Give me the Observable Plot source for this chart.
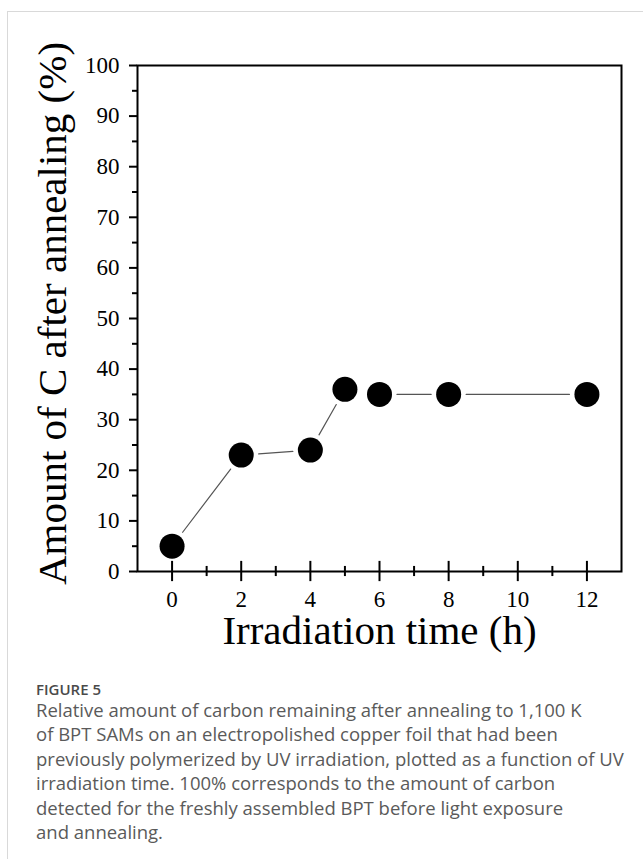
<!DOCTYPE html>
<html>
<head>
<meta charset="utf-8">
<script src="https://cdn.jsdelivr.net/npm/d3@7"></script>
<script src="https://cdn.jsdelivr.net/npm/@observablehq/plot@0.6"></script>
<style>
  html, body { margin: 0; padding: 0; background: #fff; }
  #wrap { position: relative; width: 643px; height: 859px; overflow: hidden; }
  #bl { position: absolute; left: 7px; top: 11px; width: 1px; height: 848px; background: #d9d9d9; }
  #bt { position: absolute; left: 7px; top: 11px; width: 636px; height: 1px; background: #d9d9d9; }
  #chart { position: absolute; left: 0; top: 0; }
  #cap { position: absolute; left: 36px; top: 680px; width: 607px; font-family: "Open Sans", sans-serif; color: #5a5a5a; }
  #cap .fig { font-size: 15px; font-weight: 600; color: #4a4a4a; line-height: 18px; }
  #cap .txt { font-size: 18.5px; line-height: 24.4px; white-space: nowrap; }
</style>
</head>
<body>
<div id="wrap">
  <div id="bt"></div>
  <div id="bl"></div>
  <div id="chart"></div>
  <div id="cap">
    <div class="fig">FIGURE 5</div>
    <div class="txt">Relative amount of carbon remaining after annealing to 1,100 K<br>of BPT SAMs on an electropolished copper foil that had been<br>previously polymerized by UV irradiation, plotted as a function of UV<br>irradiation time. 100% corresponds to the amount of carbon<br>detected for the freshly assembled BPT before light exposure<br>and annealing.</div>
  </div>
</div>
<script>
// Data
const hours = [0, 2, 4, 5, 6, 8, 12];
const carbon = [5, 23, 24, 36, 35, 35, 35];
const xMajorTicks = [0, 2, 4, 6, 8, 10, 12];
const xMinorTicks = [1, 3, 5, 7, 9, 11];
const yMajorTicks = [0, 10, 20, 30, 40, 50, 60, 70, 80, 90, 100];
const yMinorTicks = [5, 15, 25, 35, 45, 55, 65, 75, 85, 95];
const xLabel = "Irradiation time (h)";
const yLabel = "Amount of C after annealing (%)";

const points = hours.map((h, i) => ({h, c: carbon[i]}));
const segments = points.slice(1).map((p, i) => ({x1: points[i].h, y1: points[i].c, x2: p.h, y2: p.c}));

const serif = "'Liberation Serif', 'Times New Roman', serif";

const svg = Plot.plot({
  width: 643,
  height: 660,
  marginLeft: 137,
  marginRight: 22,
  marginTop: 65,
  marginBottom: 89,
  x: {domain: [-1, 13]},
  y: {domain: [0, 100]},
  style: {fontFamily: serif, fontSize: "23px", background: "transparent", color: "black"},
  marks: [
    Plot.arrow(segments, {x1: "x1", y1: "y1", x2: "x2", y2: "y2", headLength: 0, inset: 17.5, stroke: "#555", strokeWidth: 1.2}),
    Plot.frame({stroke: "black", strokeWidth: 2}),
    Plot.axisY({ticks: yMajorTicks, tickSize: 8, tickPadding: 10, strokeWidth: 2, label: null, fontSize: 23, tickFormat: d => d}),
    Plot.axisY({ticks: yMinorTicks, tickSize: 5, strokeWidth: 2, label: null, tickFormat: () => ""}),
    Plot.axisX({ticks: xMajorTicks, tickSize: 0, tickPadding: 19, label: null, fontSize: 23, tickFormat: d => d}),
    Plot.ruleX(xMajorTicks, {x: d => d, y1: -2, y2: 2, stroke: "black", strokeWidth: 2}),
    Plot.ruleX(xMinorTicks, {x: d => d, y1: -1, y2: 1, stroke: "black", strokeWidth: 2}),
    Plot.dot(points, {x: "h", y: "c", r: 12.5, fill: "black", stroke: "none"}),
    Plot.text([xLabel], {frameAnchor: "bottom", lineAnchor: "middle", textAnchor: "middle", dy: 59, fontSize: 41, fontFamily: serif, fill: "black"}),
    Plot.text([yLabel], {frameAnchor: "left", lineAnchor: "middle", textAnchor: "middle", rotate: -90, dx: -85, dy: -5, fontSize: 41, fontFamily: serif, fill: "black"})
  ]
});
document.getElementById("chart").appendChild(svg);
</script>
</body>
</html>
